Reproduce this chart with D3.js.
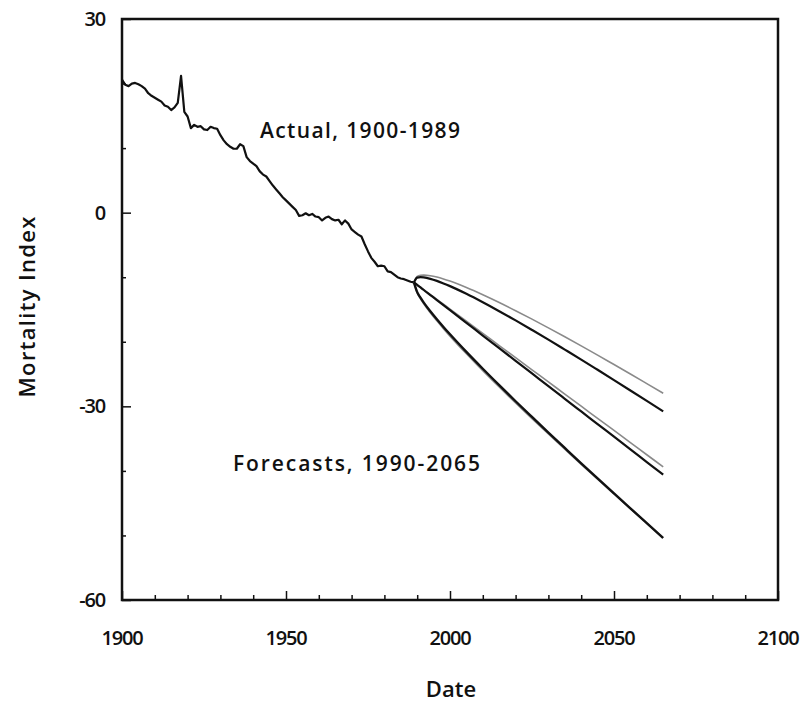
<!DOCTYPE html>
<html>
<head>
<meta charset="utf-8">
<script src="https://cdn.jsdelivr.net/npm/d3@7"></script>
<style>
  html, body { margin: 0; padding: 0; background: #fff; }
  text { font-family: "Open Sans", "Liberation Sans", sans-serif; font-weight: 600; fill: #111; }
</style>
</head>
<body>
<svg id="chart" width="804" height="702"></svg>
<script>
// ---- data ----
const actualYears = d3.range(1900, 1990);
const actualValues = [
  20.6, 19.8, 19.6, 20.0, 20.1, 19.9, 19.6, 19.2, 18.5, 18.1,
  17.8, 17.5, 17.2, 16.6, 16.4, 15.9, 16.3, 17.0, 21.2, 15.6,
  14.9, 13.1, 13.6, 13.3, 13.4, 12.9, 12.8, 13.3, 13.1, 13.0,
  12.0, 11.2, 10.6, 10.2, 9.9, 9.9, 10.6, 10.3, 8.6, 8.0,
  7.6, 7.2, 6.4, 5.9, 5.6, 4.9, 4.2, 3.6, 3.0, 2.4,
  1.9, 1.4, 0.9, 0.4, -0.5, -0.4, -0.1, -0.4, -0.2, -0.6,
  -0.7, -1.2, -0.8, -0.6, -1.0, -1.2, -1.1, -1.8, -1.2, -1.7,
  -2.6, -3.0, -3.4, -3.7, -4.9, -6.0, -7.0, -7.6, -8.3, -8.2,
  -8.3, -9.1, -9.2, -9.6, -10.0, -10.2, -10.3, -10.5, -10.7, -10.8
];

const forecastYears = [1989, 1990, 1991, 1992, 1994, 1996, 1998, 2000, 2005, 2010, 2015,
  2020, 2025, 2030, 2035, 2040, 2045, 2050, 2055, 2060, 2065];

const thinUpper = [-10.8, -9.87, -9.70, -9.67, -9.76, -9.97, -10.26, -10.60, -11.59, -12.71, -13.91,
  -15.18, -16.49, -17.85, -19.23, -20.64, -22.07, -23.53, -24.99, -26.48, -27.98];
const thinCentral = [-10.8, -11.18, -11.55, -11.93, -12.68, -13.43, -14.18, -14.94, -16.82, -18.70, -20.58,
  -22.46, -24.34, -26.22, -28.10, -29.98, -31.86, -33.74, -35.62, -37.50, -39.38];
const thinLower = [-10.8, -12.44, -13.33, -14.11, -15.50, -16.76, -17.96, -19.12, -21.86, -24.48, -27.01,
  -29.48, -31.90, -34.29, -36.65, -38.98, -41.29, -43.58, -45.86, -48.12, -50.37];

const darkUpper = [-10.8, -10.07, -9.99, -10.03, -10.25, -10.57, -10.96, -11.38, -12.57, -13.88, -15.26,
  -16.69, -18.17, -19.67, -21.21, -22.76, -24.34, -25.93, -27.54, -29.16, -30.79];
const darkCentral = [-10.8, -11.19, -11.58, -11.98, -12.76, -13.54, -14.33, -15.11, -17.07, -19.03, -20.99,
  -22.95, -24.91, -26.87, -28.83, -30.79, -32.75, -34.71, -36.67, -38.63, -40.59];
const darkLower = [-10.8, -12.31, -13.17, -13.93, -15.27, -16.51, -17.70, -18.84, -21.57, -24.18, -26.72,
  -29.21, -31.65, -34.07, -36.45, -38.82, -41.16, -43.49, -45.80, -48.10, -50.39];

const xTickLabels = [1900, 1950, 2000, 2050, 2100];
const yTickLabels = [30, 0, -30, -60];
const xMinorTicks = d3.range(1900, 2101, 10);
const yMinorTicks = d3.range(-60, 31, 10);

// ---- layout ----
const svg = d3.select("#chart");
const L = 122, R = 778, T = 19, B = 600;
const x = d3.scaleLinear().domain([1900, 2100]).range([L, R]);
const y = d3.scaleLinear().domain([-60, 30]).range([B, T]);

// ticks (inward)
const gx = svg.append("g").attr("transform", `translate(0,${B})`)
  .call(d3.axisTop(x).tickValues(xMinorTicks).tickSize(5).tickFormat(""));
gx.selectAll(".tick line").attr("stroke", "#111").attr("stroke-width", 1.5)
  .attr("y2", d => (d % 50 === 0 ? -9 : -5));
gx.select(".domain").remove();

const gy = svg.append("g").attr("transform", `translate(${L},0)`)
  .call(d3.axisRight(y).tickValues(yMinorTicks).tickSize(5).tickFormat(""));
gy.selectAll(".tick line").attr("stroke", "#111").attr("stroke-width", 1.5)
  .attr("x2", d => (d % 30 === 0 ? 9 : 4));
gy.select(".domain").remove();

// frame
svg.append("rect").attr("x", L).attr("y", T).attr("width", R - L).attr("height", B - T)
  .attr("fill", "none").attr("stroke", "#111").attr("stroke-width", 2.5);

// tick labels
svg.append("g").selectAll("text").data(xTickLabels).join("text")
  .attr("x", d => x(d)).attr("y", 645).attr("text-anchor", "middle")
  .attr("font-size", 20).attr("font-weight", 700).attr("letter-spacing", -1.2).text(d => d);

svg.append("g").selectAll("text").data(yTickLabels).join("text")
  .attr("x", 105).attr("y", d => y(d) + 7).attr("text-anchor", "end")
  .attr("font-size", 20).attr("font-weight", 700).attr("letter-spacing", -1.2).text(d => d);

// axis titles
svg.append("text").attr("x", 451).attr("y", 697).attr("text-anchor", "middle")
  .attr("font-size", 22).text("Date");
svg.append("text").attr("transform", "translate(35,307) rotate(-90)")
  .attr("text-anchor", "middle").attr("font-size", 22)
  .attr("textLength", 181).attr("lengthAdjust", "spacing").text("Mortality  Index");

// lines
const line = d3.line().x(d => x(d[0])).y(d => y(d[1]));
const actual = actualYears.map((yr, i) => [yr, actualValues[i]]);
svg.append("path").datum(actual).attr("d", line)
  .attr("fill", "none").attr("stroke", "#111").attr("stroke-width", 2.2).attr("stroke-linejoin", "round");

const forecasts = [
  { v: thinUpper, c: "#8a8a8a", w: 1.6 },
  { v: thinCentral, c: "#8a8a8a", w: 1.6 },
  { v: thinLower, c: "#8a8a8a", w: 1.6 },
  { v: darkUpper, c: "#111", w: 2.2 },
  { v: darkCentral, c: "#111", w: 2.2 },
  { v: darkLower, c: "#111", w: 2.4 }
];
const fLine = d3.line().x(d => x(d[0])).y(d => y(d[1])).curve(d3.curveMonotoneX);
forecasts.forEach(f => {
  const pts = forecastYears.map((yr, i) => [yr, f.v[i]]);
  svg.append("path").datum(pts).attr("d", fLine)
    .attr("fill", "none").attr("stroke", f.c).attr("stroke-width", f.w);
});

// annotations
svg.append("text").attr("x", 260).attr("y", 138).attr("font-size", 21)
  .attr("textLength", 200).attr("lengthAdjust", "spacing").text("Actual,  1900-1989");
svg.append("text").attr("x", 233).attr("y", 471).attr("font-size", 21)
  .attr("textLength", 247).attr("lengthAdjust", "spacing").text("Forecasts,  1990-2065");
</script>
</body>
</html>
